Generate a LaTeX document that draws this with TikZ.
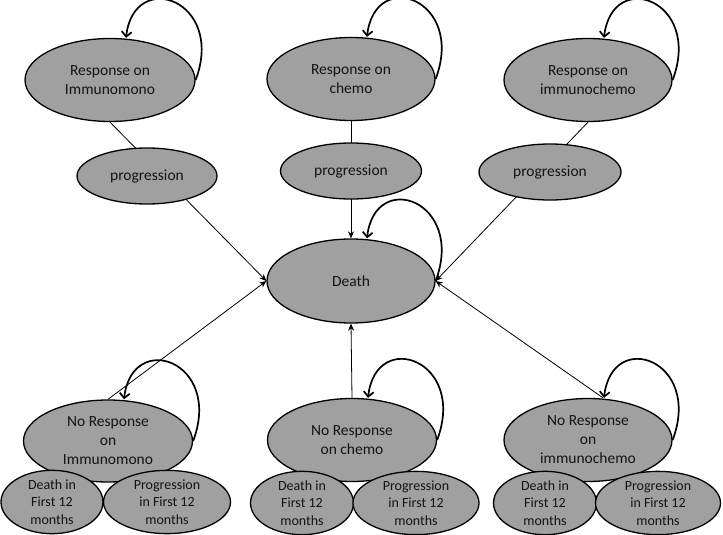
\documentclass[tikz,border=0pt]{standalone}
\usepackage{fontspec}
\setmainfont{Carlito}
\usetikzlibrary{shapes.geometric,arrows.meta,backgrounds}
\definecolor{stategray}{RGB}{160,160,160}
\definecolor{txt}{RGB}{20,20,20}
\tikzset{
  state/.style={ellipse,draw=black,line width=1.3pt,fill=stategray,inner sep=0pt,
    align=center,text=txt,font=\fontsize{15.5}{19}\selectfont},
  small/.style={state,font=\fontsize{14}{17.5}\selectfont},
  arr/.style={line width=0.8pt,-{Stealth[length=7pt,width=6pt]}},
  selfloop/.style={line width=1.7pt,-{Straight Barb[length=5pt,width=10pt]}}
}
\begin{document}
\begin{tikzpicture}[x=1pt,y=-1pt]
\useasboundingbox (0,0) rectangle (723,535);
% top row
\node[state,minimum width=170pt,minimum height=83pt] (r1) at (110,80) {Response on\\Immunomono};
\node[state,minimum width=168pt,minimum height=83pt] (r2) at (351,79) {Response on\\chemo};
\node[state,minimum width=168pt,minimum height=83pt] (r3) at (588,80) {Response on\\immunochemo};
% death
\node[state,minimum width=168pt,minimum height=84pt] (death) at (351,281) {Death};
% no response row
\node[state,minimum width=169pt,minimum height=82pt] (n1) at (108,441) {No Response\\on\\Immunomono};
\node[state,minimum width=169pt,minimum height=83pt] (n2) at (352,440) {No Response\\on chemo};
\node[state,minimum width=168pt,minimum height=83pt] (n3) at (588,440) {No Response\\on\\immunochemo};
% connectors behind the progression states
\begin{scope}[on background layer]
\draw[arr] (r1.south) -- (death.west);
\draw[arr] (r2.south) -- (death.north);
\draw[arr] (r3.south) -- (death.east);
\draw[arr] (n1.north) -- (death.west);
\draw[arr] (n2.north) -- (death.south);
\draw[arr] ([xshift=15pt]n3.north) -- (death.east);
\end{scope}
% progression states
\node[state,minimum width=140pt,minimum height=56pt] (p1) at (147,176) {progression};
\node[state,minimum width=141pt,minimum height=56pt] (p2) at (351,171) {progression};
\node[state,minimum width=142pt,minimum height=56pt] (p3) at (550,172) {progression};
% first-12-month states
\node[small,minimum width=102pt,minimum height=61pt] (d1) at (52,502) {Death in\\First 12\\months};
\node[small,minimum width=127pt,minimum height=61pt] (g1) at (167,502) {Progression\\in First 12\\months};
\node[small,minimum width=103pt,minimum height=61pt] (d2) at (302,503) {Death in\\First 12\\months};
\node[small,minimum width=126pt,minimum height=61pt] (g2) at (416,503) {Progression\\in First 12\\months};
\node[small,minimum width=103pt,minimum height=61pt] (d3) at (545,503) {Death in\\First 12\\months};
\node[small,minimum width=125pt,minimum height=61pt] (g3) at (658,503) {Progression\\in First 12\\months};
% self loops
\foreach \n in {r1,r2,r3,death,n1,n2,n3}{
  \draw[selfloop] (\n.east) .. controls +(30,-80) and +(8,-70) .. ([xshift=16pt]\n.north);
}
\end{tikzpicture}
\end{document}
